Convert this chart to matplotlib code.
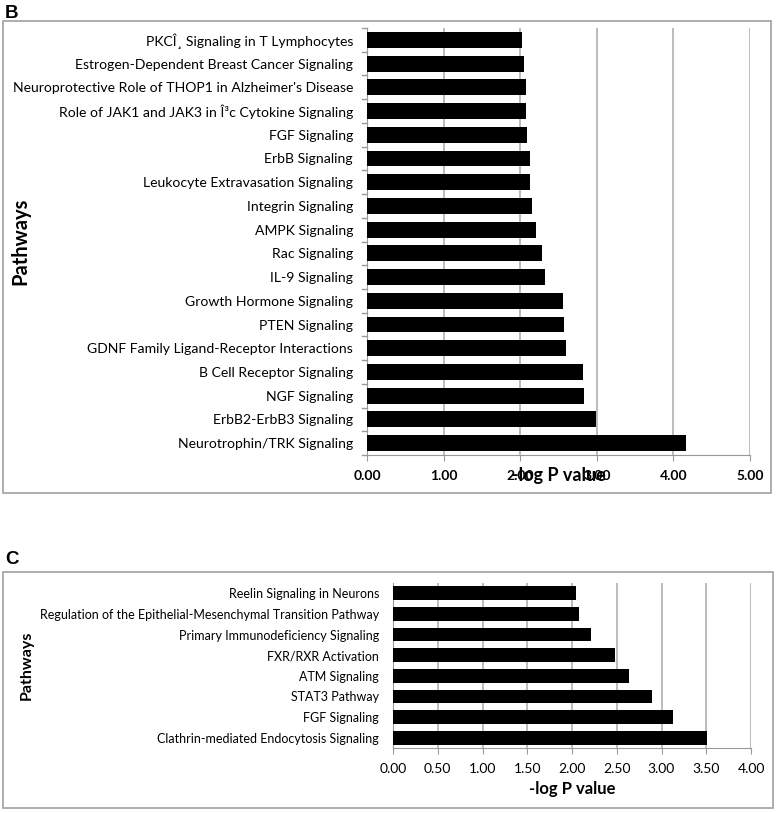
import matplotlib
matplotlib.use('Agg')
import matplotlib.pyplot as plt
import matplotlib.patches as patches
import numpy as np

# Panel B data (top to bottom as shown)
pathways_b = [
    "PKCÎ¸ Signaling in T Lymphocytes",
    "Estrogen-Dependent Breast Cancer Signaling",
    "Neuroprotective Role of THOP1 in Alzheimer's Disease",
    "Role of JAK1 and JAK3 in Î³c Cytokine Signaling",
    "FGF Signaling",
    "ErbB Signaling",
    "Leukocyte Extravasation Signaling",
    "Integrin Signaling",
    "AMPK Signaling",
    "Rac Signaling",
    "IL-9 Signaling",
    "Growth Hormone Signaling",
    "PTEN Signaling",
    "GDNF Family Ligand-Receptor Interactions",
    "B Cell Receptor Signaling",
    "NGF Signaling",
    "ErbB2-ErbB3 Signaling",
    "Neurotrophin/TRK Signaling",
]
logp_b = [2.02, 2.05, 2.08, 2.08, 2.09, 2.13, 2.13, 2.15, 2.20,
          2.28, 2.32, 2.56, 2.57, 2.60, 2.82, 2.83, 2.99, 4.17]
xticks_b = [0, 1, 2, 3, 4, 5]

# Panel C data
pathways_c = [
    "Reelin Signaling in Neurons",
    "Regulation of the Epithelial-Mesenchymal Transition Pathway",
    "Primary Immunodeficiency Signaling",
    "FXR/RXR Activation",
    "ATM Signaling",
    "STAT3 Pathway",
    "FGF Signaling",
    "Clathrin-mediated Endocytosis Signaling",
]
logp_c = [2.05, 2.08, 2.21, 2.48, 2.64, 2.89, 3.13, 3.51]
xticks_c = [0, 0.5, 1, 1.5, 2, 2.5, 3, 3.5, 4]

plt.rcParams['font.family'] = ['Lato', 'DejaVu Sans']

W, H = 777, 813
fig = plt.figure(figsize=(W / 100, H / 100), dpi=100)

def box(x0, y0, x1, y1):
    # rectangulo en pixeles (origen arriba-izquierda)
    r = patches.Rectangle((x0 / W, 1 - y1 / H), (x1 - x0) / W, (y1 - y0) / H,
                          transform=fig.transFigure, fill=False,
                          edgecolor='#a0a0a0', linewidth=1.2)
    fig.patches.append(r)

def make_axes(x0, y0, x1, y1):
    return fig.add_axes([x0 / W, 1 - y1 / H, (x1 - x0) / W, (y1 - y0) / H])

def bar_panel(ax, names, vals, ticks, label_size, bold_ticks, tick_boundaries):
    n = len(names)
    y = np.arange(n)
    ax.barh(y, vals, height=0.67, color='black', zorder=3)
    ax.set_ylim(n - 0.5, -0.5)
    ax.set_xlim(ticks[0], ticks[-1])
    ax.set_yticks(y)
    ax.set_yticklabels(names, fontsize=label_size)
    ax.tick_params(axis='y', length=0, pad=10)
    ax.set_xticks(ticks)
    ax.set_xticklabels([f'{t:.2f}' for t in ticks], fontsize=10,
                       fontweight='bold' if bold_ticks else 'normal')
    ax.tick_params(axis='x', length=4, color='#999999', pad=7)
    ax.grid(axis='x', color='#b0b0b0', linewidth=1.2, zorder=0)
    for s in ['top', 'right']:
        ax.spines[s].set_visible(False)
    ax.spines['left'].set_color('#999999')
    ax.spines['bottom'].set_color('#999999')
    if tick_boundaries:
        # pequeñas marcas entre categorias
        for b in np.arange(-0.5, n, 1.0):
            ax.plot([-0.012, 0], [b, b], transform=ax.get_yaxis_transform(),
                    color='#999999', lw=1, clip_on=False)

# Panel B
fig.text(5 / W, 1 - 18 / H, 'B', fontsize=13.5, fontweight='bold',
         family='Liberation Sans', va='baseline', ha='left')
box(3, 21, 771, 493)
axb = make_axes(367, 28, 750, 455)
bar_panel(axb, pathways_b, logp_b, xticks_b, 10.1, True, True)
fig.text(559 / W, 1 - 476 / H, '-log P value', fontsize=13, fontweight='bold',
         ha='center', va='center')
fig.text(20 / W, 1 - 241 / H, 'Pathways', fontsize=14.5, fontweight='bold',
         rotation=90, ha='center', va='center')

# Panel C
fig.text(5 / W, 1 - 564 / H, 'C', fontsize=13.5, fontweight='bold',
         family='Liberation Sans', va='baseline', ha='left')
box(3, 572, 773, 808)
axc = make_axes(393, 583, 751, 748)
bar_panel(axc, pathways_c, logp_c, xticks_c, 9.0, False, False)
fig.text(572 / W, 1 - 789 / H, '-log P value', fontsize=12, fontweight='bold',
         ha='center', va='center')
fig.text(27 / W, 1 - 665 / H, 'Pathways', fontsize=11.5, fontweight='bold',
         rotation=90, ha='center', va='center')

fig.savefig('out.png', dpi=100)
